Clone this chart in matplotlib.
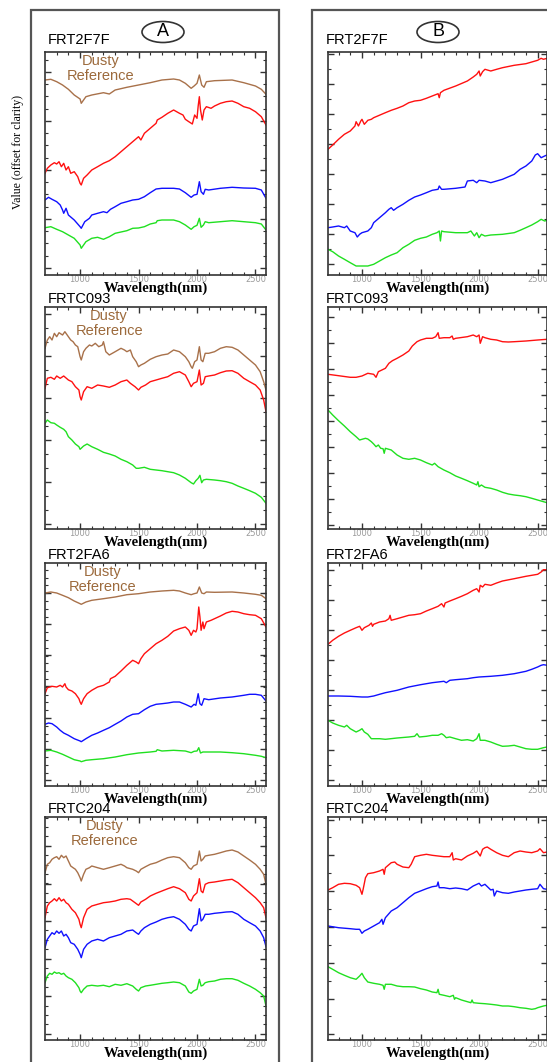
import numpy as np
import matplotlib.pyplot as plt
from matplotlib.patches import Ellipse, Rectangle
from matplotlib.ticker import FixedLocator

# ---- column A, FRT2F7F ----
a1_dusty_wl = [700, 750, 800, 850, 900, 950, 1000, 1010, 1050, 1100, 1200, 1250, 1300, 1400, 1500, 1600, 1700,
               1800, 1850, 1900, 1950, 1975, 2000, 2020, 2040, 2060, 2080, 2150, 2300, 2400, 2500, 2550, 2590]
a1_dusty = [195, 195.7, 193.3, 190, 185.7, 180, 176, 171.7, 178.3, 180, 182.3, 181, 185, 187.7, 190, 192.3, 195,
            196, 195, 191.7, 186.7, 189, 191.7, 200, 190, 187.7, 193.3, 194.3, 195, 192.3, 189, 185.7, 180.7]
a1_red_wl = [700, 720, 750, 780, 800, 820, 840, 860, 880, 900, 920, 950, 980, 1000, 1010, 1030, 1060, 1100, 1150,
             1200, 1250, 1300, 1350, 1400, 1450, 1500, 1520, 1550, 1600, 1650, 1660, 1700, 1750, 1800, 1850, 1880,
             1900, 1930, 1960, 1980, 2000, 2010, 2020, 2030, 2045, 2060, 2080, 2120, 2150, 2200, 2250, 2300, 2350,
             2400, 2450, 2500, 2550, 2590]
a1_red = [101.7, 106.7, 110, 112.3, 111, 113.3, 108.3, 111.7, 105, 108.3, 101.7, 103.3, 98.3, 91.7, 90, 96.7, 100,
          105, 108.3, 111.7, 114.3, 118.3, 123.3, 128.3, 133.3, 138.3, 135, 141.7, 146.7, 151.7, 155, 157.7, 161.7,
          165, 161.7, 160, 155.7, 153.3, 151, 160, 156.7, 169, 178.3, 165, 155, 165, 168.3, 166.7, 169, 171.7, 173.3,
          174, 171.7, 168.3, 166.7, 163.3, 158.3, 150]
a1_blue_wl = [700, 730, 760, 800, 830, 850, 860, 880, 900, 950, 1000, 1010, 1040, 1080, 1100, 1150, 1200, 1230,
              1260, 1300, 1350, 1400, 1450, 1500, 1550, 1600, 1650, 1700, 1800, 1850, 1900, 1950, 1975, 2000, 2020,
              2035, 2055, 2070, 2100, 2200, 2300, 2400, 2500, 2550, 2590]
a1_blue = [75, 77.7, 75.7, 73.3, 70, 65, 61.7, 66.7, 60, 55, 48.3, 46.7, 53.3, 56.7, 60, 61.7, 63.3, 62.3, 65.7,
           68.3, 71.7, 73.3, 75, 75.7, 78.3, 82.3, 86, 86.7, 86.7, 86, 82.3, 77.7, 80, 80.7, 93.3, 83.3, 80.7, 85.7,
           85, 86.7, 87.7, 87, 86.7, 85, 76.7]
a1_green_wl = [700, 750, 800, 850, 900, 950, 1000, 1010, 1050, 1100, 1150, 1200, 1250, 1300, 1400, 1450, 1500,
               1550, 1600, 1650, 1660, 1700, 1800, 1850, 1900, 1950, 1975, 2000, 2020, 2035, 2055, 2070, 2100, 2200,
               2300, 2400, 2500, 2550, 2590]
a1_green = [47.3, 48.3, 45.7, 43.3, 40, 36.7, 30, 26.7, 33.3, 36.7, 37.7, 35.7, 38.3, 41.7, 44.3, 46.7, 47, 48.3,
            51, 52.3, 54.3, 55, 55, 53.3, 50, 45.7, 48.3, 49.7, 56.7, 47.7, 50, 53.3, 52.3, 53.3, 54.3, 53.3, 52.3,
            51, 45]

# ---- column A, FRTC093 ----
a2_dusty_wl = [700, 720, 740, 760, 780, 800, 820, 850, 870, 900, 920, 940, 960, 980, 1000, 1010, 1030, 1050, 1080,
               1100, 1130, 1160, 1190, 1200, 1220, 1250, 1300, 1350, 1380, 1400, 1430, 1450, 1480, 1500, 1520,
               1550, 1600, 1650, 1700, 1750, 1800, 1850, 1900, 1930, 1950, 1960, 1980, 2000, 2020, 2035, 2050,
               2070, 2100, 2150, 2200, 2250, 2300, 2350, 2400, 2450, 2500, 2540, 2570, 2590]
a2_dusty = [180.7, 189, 192.3, 189, 195.7, 192.3, 196.3, 194, 197.3, 192.3, 189, 187.3, 184, 182.3, 172.3, 169,
            177.3, 180.7, 184, 183, 185.7, 182.3, 184, 187.3, 177.3, 174, 177.3, 180.7, 179, 177.3, 179, 172.3,
            167.3, 162.3, 164, 165.7, 169.7, 172.3, 174, 175, 179, 177.3, 172.3, 167.3, 162.3, 160.7, 167.3, 169,
            182.3, 169, 167.3, 175.7, 175.7, 177.3, 180.7, 182.3, 181.7, 179, 174, 169, 164, 157.3, 147.3, 139]
a2_red_wl = [700, 720, 750, 780, 800, 830, 860, 900, 930, 960, 990, 1000, 1010, 1030, 1060, 1100, 1150, 1200, 1250,
             1300, 1350, 1400, 1430, 1470, 1500, 1520, 1560, 1600, 1650, 1700, 1750, 1800, 1850, 1900, 1930, 1950,
             1970, 2000, 2020, 2035, 2055, 2070, 2100, 2150, 2200, 2250, 2300, 2350, 2400, 2450, 2500, 2540, 2570,
             2590]
a2_red = [140.7, 150.7, 151.7, 149.7, 153, 150.7, 153, 149, 147.3, 142.3, 139, 132.3, 129, 137.3, 142.3, 140.7,
          144, 143, 141.7, 144, 147.3, 149, 145.7, 142.3, 139, 141.7, 144, 147.3, 149, 150.7, 152.3, 155.7, 157.3,
          154, 147.3, 142.3, 145.7, 147.3, 159, 144, 145.7, 152.3, 153, 154, 156.3, 158, 158.3, 155.7, 150.7, 147.3,
          144, 139, 129, 117.3]
a2_green_wl = [700, 720, 750, 780, 800, 830, 860, 880, 900, 930, 960, 990, 1000, 1030, 1060, 1100, 1150, 1200,
               1250, 1300, 1350, 1400, 1450, 1480, 1500, 1550, 1600, 1650, 1700, 1750, 1800, 1850, 1900, 1950,
               1970, 1990, 2010, 2025, 2040, 2055, 2080, 2150, 2200, 2250, 2300, 2350, 2400, 2450, 2500, 2550, 2590]
a2_green = [105.7, 109, 106.3, 105.7, 104, 101.7, 99.7, 97.3, 92.3, 89, 85, 82.3, 79.7, 83, 85, 82.3, 79.7, 76.7,
            75, 73, 69.7, 67.3, 64, 60.7, 60.7, 61.7, 59.7, 59, 58.3, 57.3, 56.3, 54, 50.7, 46.3, 45, 48.3, 50.7,
            53.7, 46.3, 49, 49.7, 49, 48.3, 47.3, 45.7, 43, 40.7, 38.3, 35.7, 31.7, 25.7]

# ---- column A, FRT2FA6 ----
a3_dusty_wl = [700, 750, 800, 850, 900, 950, 1000, 1010, 1050, 1100, 1200, 1300, 1400, 1500, 1600, 1700, 1800,
               1850, 1900, 1950, 1975, 2000, 2020, 2040, 2060, 2080, 2150, 2300, 2400, 2500, 2550, 2590]
a3_dusty = [193, 194, 193, 190.7, 188.3, 185, 182.3, 181.7, 184, 185.7, 187.3, 189, 191.3, 192.3, 194, 195, 195.7,
            195, 193, 191.3, 192.3, 193, 199, 193, 192.3, 194, 193.7, 194, 193, 191.7, 190.7, 187.3]
a3_red_wl = [700, 720, 760, 800, 830, 850, 870, 880, 900, 930, 960, 990, 1000, 1010, 1030, 1060, 1100, 1150, 1200,
             1250, 1260, 1300, 1350, 1400, 1450, 1480, 1500, 1520, 1550, 1600, 1650, 1700, 1750, 1800, 1850, 1900,
             1930, 1950, 1970, 1990, 2000, 2015, 2025, 2035, 2050, 2060, 2080, 2120, 2200, 2250, 2300, 2350, 2400,
             2450, 2500, 2550, 2590]
a3_red = [92.3, 98.3, 99.7, 99, 100.7, 99, 102.3, 99, 96.3, 95, 92.3, 87.3, 84, 81.7, 87.3, 92.3, 95.7, 99, 100.7,
          104, 107.3, 109.7, 115, 120.7, 125.7, 124, 122.3, 127.3, 132.3, 137.3, 142.3, 145.7, 149.7, 155, 157.3,
          159, 155.7, 150.7, 155.7, 154, 157.3, 179, 169, 155.7, 164, 157.3, 164, 165.7, 170, 173, 174.7, 174,
          172.3, 171.3, 170.7, 167.3, 159]
a3_blue_wl = [700, 730, 760, 800, 830, 860, 900, 950, 1000, 1010, 1050, 1100, 1150, 1200, 1250, 1300, 1350, 1400,
              1450, 1500, 1550, 1600, 1650, 1700, 1750, 1800, 1850, 1900, 1950, 1975, 1990, 2010, 2025, 2040, 2060,
              2100, 2200, 2300, 2400, 2450, 2500, 2550, 2590]
a3_blue = [61.7, 63, 62.3, 59, 55.7, 53, 50.7, 47.3, 45, 44.3, 47.3, 50.7, 53, 55.7, 58.3, 61.7, 65, 69, 71.7,
           72.3, 76.3, 79.7, 81.7, 82.3, 83, 84, 84, 81.7, 79, 81.7, 80.7, 92.3, 82.3, 80.7, 87.3, 86.3, 88, 89,
           90.7, 91.7, 91.7, 90.7, 85]
a3_green_wl = [700, 750, 800, 850, 900, 950, 1000, 1010, 1050, 1100, 1200, 1300, 1400, 1500, 1600, 1650, 1660,
               1700, 1800, 1900, 1950, 1975, 2000, 2015, 2030, 2050, 2100, 2200, 2300, 2400, 2500, 2550, 2590]
a3_green = [35, 35.7, 34, 31.7, 29, 26.3, 25, 24.3, 25.7, 26.3, 27.3, 29, 31.3, 33, 34, 34.7, 36.3, 35, 35.7, 35,
            33.3, 34.7, 35, 38.3, 33, 34, 34, 34, 33.3, 32.3, 30.7, 29.7, 28.3]

# ---- column A, FRTC204 ----
a4_wl = [700, 720, 740, 760, 780, 800, 820, 840, 860, 880, 900, 920, 940, 960, 980, 1000, 1010, 1030, 1050, 1080,
         1100, 1150, 1200, 1250, 1300, 1350, 1380, 1400, 1450, 1480, 1500, 1520, 1560, 1600, 1650, 1700, 1750,
         1800, 1850, 1900, 1930, 1950, 1970, 2000, 2020, 2035, 2050, 2070, 2100, 2150, 2200, 2250, 2300, 2350,
         2400, 2450, 2500, 2540, 2570, 2590]
a4_dusty = [167.3, 175.7, 177.3, 180.7, 182.3, 183.3, 180.7, 184.7, 182.3, 184, 179, 174, 172.3, 170.7, 167.3,
            162.3, 159, 165.7, 170.7, 172.3, 174, 172.3, 170.7, 172.3, 174, 175.7, 174, 172.3, 170.7, 169, 167.3,
            170.7, 173.3, 175.7, 177.3, 180, 182.3, 183.3, 182.3, 177.3, 172.3, 170.7, 174, 175.7, 189, 179, 180.7,
            184, 184.7, 185.7, 187.3, 189, 190, 188, 184, 180, 175.7, 170.7, 165.7, 155.7]
a4_red_wl = [700, 720, 740, 760, 780, 800, 820, 840, 860, 880, 900, 930, 960, 990, 1000, 1010, 1030, 1060, 1100,
             1150, 1200, 1250, 1300, 1350, 1400, 1430, 1470, 1500, 1520, 1560, 1600, 1650, 1700, 1750, 1800, 1850,
             1900, 1930, 1950, 1970, 2000, 2020, 2035, 2050, 2070, 2100, 2150, 2200, 2250, 2300, 2350, 2400, 2450,
             2500, 2540, 2570, 2590]
a4_red = [122.3, 134, 137.3, 139, 141.3, 139, 142.3, 139, 140.7, 137.3, 135.7, 130.7, 127.3, 120.7, 115.7, 112.3,
          122.3, 130.7, 134, 135.7, 137.3, 138, 139, 140.7, 141.3, 140.7, 137.3, 134.7, 138, 140.7, 144, 146.7, 149,
          151.3, 153.3, 151.3, 147.3, 140.7, 139, 144, 147.3, 161.3, 149, 147.3, 155.7, 157.3, 158, 159, 160, 160.7,
          157.3, 152.3, 147.3, 142.3, 137.3, 132.3, 122.3]
a4_blue_wl = [700, 720, 740, 760, 780, 800, 820, 840, 860, 880, 900, 920, 950, 980, 1000, 1010, 1030, 1060, 1100,
              1150, 1200, 1250, 1300, 1350, 1400, 1450, 1480, 1500, 1520, 1550, 1600, 1650, 1700, 1750, 1800, 1850,
              1900, 1930, 1950, 1970, 2000, 2020, 2035, 2050, 2070, 2100, 2150, 2200, 2250, 2300, 2350, 2400, 2450,
              2500, 2540, 2570, 2590]
a4_blue = [92.3, 100.7, 104, 107.3, 105.7, 109, 106.7, 109, 104, 105.7, 102.3, 97.3, 95.7, 90.7, 85.7, 82.3, 90.7,
           95.7, 99, 100.7, 99, 102.3, 104, 105.7, 109, 110, 107.3, 105.7, 109, 112.3, 115.7, 118, 120.7, 122.3,
           123.3, 120.7, 115.7, 110.7, 109, 114, 115.7, 131.3, 119, 120.7, 125.7, 125.7, 126.7, 127.3, 128, 128.3,
           125.7, 120.7, 117.3, 114, 109, 102.3, 93.3]
a4_green_wl = [700, 720, 740, 760, 780, 800, 820, 840, 860, 880, 900, 930, 960, 990, 1000, 1010, 1030, 1060, 1100,
               1150, 1200, 1250, 1300, 1350, 1400, 1450, 1480, 1500, 1520, 1560, 1600, 1650, 1700, 1750, 1800,
               1850, 1900, 1930, 1950, 1970, 2000, 2020, 2035, 2050, 2070, 2100, 2150, 2200, 2250, 2300, 2350,
               2400, 2450, 2500, 2540, 2570, 2590]
a4_green = [57.3, 64, 66.7, 65.7, 68, 66.7, 67.3, 65.7, 66.7, 64, 62.3, 60.7, 57.3, 52.3, 49, 47.3, 50.7, 54, 54.7,
            54, 54.7, 53.3, 55.7, 54.7, 56.3, 54, 50.7, 49, 52.3, 54, 54.7, 55.7, 56.7, 57.3, 58, 57.3, 54, 48, 46.7,
            49, 50.7, 60.7, 54, 54.7, 57.3, 58.3, 59, 60.7, 61.3, 61.3, 59.7, 56.7, 54, 50.7, 47.3, 44, 34]

# ---- column B, FRT2F7F ----
b1_red_wl = [710, 750, 800, 850, 900, 940, 950, 970, 990, 1000, 1020, 1040, 1050, 1080, 1100, 1200, 1250, 1300,
             1350, 1400, 1450, 1500, 1550, 1600, 1650, 1660, 1670, 1700, 1800, 1900, 1950, 1980, 2000, 2010, 2030,
             2050, 2100, 2150, 2200, 2300, 2400, 2450, 2500, 2530, 2550, 2580]
b1_red = [125.7, 130, 135.7, 140.7, 144, 149, 153.3, 149, 154, 155.7, 150.7, 153.3, 154.7, 155.7, 157.3, 162.3,
          164.7, 166.7, 169, 172.3, 174, 174.7, 176.7, 179, 181.3, 177.3, 182.3, 184.7, 189, 194, 198, 200.7, 204,
          199, 203.3, 205.7, 204, 205.7, 207.3, 209.7, 211.3, 213, 214.7, 216.7, 215.7, 216.7]
b1_blue_wl = [710, 750, 800, 850, 870, 900, 940, 960, 980, 1000, 1050, 1080, 1100, 1150, 1200, 1230, 1250, 1270,
              1300, 1350, 1400, 1450, 1500, 1550, 1600, 1650, 1660, 1680, 1700, 1800, 1880, 1900, 1950, 1980, 2000,
              2050, 2100, 2200, 2300, 2350, 2400, 2450, 2480, 2500, 2530, 2560, 2580]
b1_blue = [47.3, 48, 49, 47.3, 49, 44, 42.3, 38, 40.7, 42.3, 44, 47.3, 52.3, 57.3, 62.3, 65.7, 67.3, 64.7, 67.3,
           70.7, 74.7, 78, 80, 82.3, 84.7, 85.7, 89, 85.7, 85.7, 86.7, 88, 94, 94.7, 92.3, 94.7, 94, 92.3, 95.7,
           100.7, 105.7, 109, 114, 120, 121.3, 117.3, 119, 120]
b1_green_wl = [710, 750, 800, 850, 900, 950, 1000, 1050, 1100, 1150, 1200, 1250, 1300, 1350, 1400, 1450, 1500,
               1550, 1600, 1640, 1660, 1670, 1680, 1700, 1800, 1900, 1930, 1960, 1980, 2000, 2020, 2050, 2100,
               2200, 2300, 2350, 2400, 2450, 2500, 2530, 2560, 2580]
b1_green = [25.7, 23.3, 19, 15.7, 12.3, 9, 9, 9, 10.7, 14, 17.3, 20, 22.3, 27.3, 30.7, 34.7, 36.7, 38, 40.7, 42.3,
            44, 34, 44, 43.3, 42.3, 42.3, 44, 39, 42.3, 37.3, 40.7, 39, 40, 40.7, 42.3, 44.7, 47.3, 50, 53.3, 55.7,
            54, 54.7]

# ---- column B, FRTC093 ----
b2_red_wl = [710, 800, 900, 950, 1000, 1050, 1100, 1120, 1140, 1200, 1230, 1260, 1300, 1350, 1400, 1430, 1470,
             1500, 1550, 1600, 1630, 1650, 1660, 1700, 1750, 1770, 1780, 1800, 1900, 1950, 1980, 2000, 2010, 2030,
             2050, 2100, 2150, 2200, 2250, 2300, 2400, 2500, 2580]
b2_red = [154.7, 153.3, 151.7, 151.7, 153, 155.7, 154.7, 151.7, 157.3, 160.7, 165.7, 168.3, 170.7, 174, 178, 183,
          187.3, 189, 190.7, 190.7, 192.3, 196.3, 190.7, 191.3, 191.3, 193, 189.7, 190.7, 192.3, 194, 192.3, 194,
          185.7, 192.3, 191.3, 189.7, 189, 187.3, 187, 187.3, 188, 189, 189.7]
b2_green_wl = [710, 750, 800, 850, 900, 950, 980, 1000, 1030, 1050, 1080, 1100, 1120, 1140, 1160, 1180, 1190,
               1200, 1250, 1300, 1350, 1400, 1450, 1500, 1550, 1600, 1620, 1650, 1700, 1750, 1800, 1850, 1900,
               1950, 1980, 1990, 2000, 2020, 2050, 2100, 2150, 2200, 2250, 2300, 2350, 2400, 2450, 2500, 2550, 2580]
b2_green = [119, 114, 108.3, 103, 97.3, 92.3, 89, 89.7, 90.7, 90, 87.3, 85, 82.3, 84, 80.7, 80.3, 75.7, 80.7, 79,
            74, 70.7, 69.7, 70.7, 69, 66.3, 64, 65.7, 62.3, 59, 56.3, 53, 50.7, 48.3, 45.7, 44, 47.3, 42.3, 44, 41.7,
            40.7, 39, 36.7, 35, 34, 33.3, 32.3, 30.7, 29, 27.3, 26.3]

# ---- column B, FRT2FA6 ----
b3_red_wl = [710, 750, 800, 850, 900, 950, 980, 1000, 1020, 1060, 1080, 1090, 1100, 1150, 1200, 1230, 1240, 1250,
             1300, 1350, 1400, 1450, 1500, 1550, 1600, 1650, 1680, 1700, 1710, 1750, 1800, 1850, 1900, 1950, 1980,
             2000, 2010, 2030, 2050, 2100, 2150, 2200, 2300, 2400, 2450, 2500, 2530, 2550, 2580]
b3_red = [141.7, 145.7, 149.7, 153, 155.7, 158.3, 159.7, 155.7, 158.3, 160.7, 163, 159.7, 161.7, 164, 165, 167.3,
          170.7, 165.7, 167.3, 169, 170.7, 171.3, 172.3, 175, 177.3, 179.7, 182.3, 179, 183, 185, 187.3, 189.7,
          192.3, 195.7, 197.3, 194, 200.7, 199, 201.7, 200.7, 203, 205, 207.3, 209.7, 210.7, 211.7, 214, 216.3,
          216.3]
b3_blue_wl = [710, 800, 900, 1000, 1050, 1100, 1150, 1200, 1300, 1400, 1500, 1600, 1700, 1720, 1750, 1800, 1900,
              1950, 2000, 2100, 2200, 2300, 2400, 2450, 2500, 2530, 2550, 2580]
b3_blue = [90, 90, 89.7, 89, 89, 90, 91.7, 93.3, 95.7, 99, 101.3, 103.3, 104.7, 103.3, 105.7, 106.3, 107.3, 108.3,
           109, 109.7, 110.7, 112.3, 114.7, 116.7, 119, 120.7, 121.3, 120.7]
b3_green_wl = [710, 750, 800, 850, 870, 900, 950, 980, 1000, 1020, 1050, 1080, 1100, 1150, 1200, 1300, 1400, 1450,
               1470, 1490, 1550, 1600, 1650, 1680, 1700, 1720, 1750, 1800, 1850, 1900, 1950, 1980, 2000, 2010,
               2050, 2100, 2150, 2200, 2250, 2300, 2350, 2400, 2450, 2500, 2550, 2580]
b3_green = [65.7, 63, 60.7, 59, 60.7, 57.3, 54, 55.7, 57.3, 54, 51.7, 47.3, 47.3, 47.3, 46.7, 48, 49, 49.7, 52.3,
            49, 49.7, 50.7, 50.7, 52.3, 50.7, 48.3, 49, 47.3, 45.7, 46.3, 45, 47.3, 52.3, 45.7, 45.7, 44, 41.7, 39.7,
            40, 40.7, 39, 37.3, 36.7, 36.7, 38.3, 39]

# ---- column B, FRTC204 ----
b4_red_wl = [710, 750, 800, 850, 900, 950, 980, 1000, 1010, 1030, 1050, 1100, 1150, 1180, 1190, 1200, 1250, 1280,
             1300, 1350, 1400, 1420, 1450, 1500, 1550, 1600, 1650, 1700, 1750, 1770, 1780, 1800, 1850, 1900, 1950,
             1980, 2000, 2010, 2030, 2050, 2070, 2100, 2150, 2200, 2250, 2300, 2350, 2400, 2450, 2500, 2520, 2550,
             2580]
b4_red = [150, 152.3, 155.7, 156.7, 156.3, 154.7, 152.3, 145.7, 150.7, 162.3, 166.3, 167.3, 169, 170.7, 165.7,
          172.3, 177.3, 178, 175.7, 173, 172.3, 175.7, 183.3, 184.7, 185.7, 184.7, 184, 183.3, 183.3, 187.3, 180,
          181.3, 180, 184, 186.7, 189, 185.7, 184, 190.7, 192.3, 193, 190.7, 187.3, 184.7, 183.3, 187.3, 189, 188,
          187.3, 189, 191.3, 187.3, 188]
b4_blue_wl = [710, 800, 900, 950, 980, 1000, 1020, 1050, 1100, 1150, 1170, 1180, 1200, 1250, 1300, 1350, 1400,
              1450, 1500, 1550, 1600, 1640, 1650, 1660, 1700, 1750, 1800, 1850, 1900, 1950, 2000, 2020, 2050, 2080,
              2100, 2120, 2130, 2150, 2200, 2250, 2300, 2350, 2400, 2450, 2500, 2520, 2550, 2580]
b4_blue = [114, 112.3, 111.3, 110.7, 110.7, 106.7, 109, 110.7, 114, 117.3, 120.7, 115.7, 122.3, 129, 132.3, 137.3,
           142.3, 146.7, 149, 151.3, 153.3, 154, 158, 152.3, 152.3, 151.3, 152, 151.3, 150, 154, 156.7, 154, 155.7,
           152.3, 150, 150.7, 144, 149, 147.3, 146.7, 148, 149, 150, 150.7, 151.3, 155.7, 151.3, 150.7]
b4_green_wl = [710, 750, 800, 850, 900, 950, 980, 1000, 1020, 1050, 1100, 1150, 1180, 1190, 1200, 1250, 1300,
               1350, 1400, 1450, 1500, 1550, 1600, 1640, 1650, 1660, 1700, 1750, 1780, 1790, 1800, 1850, 1900,
               1930, 1940, 1950, 2000, 2050, 2100, 2150, 2200, 2250, 2300, 2350, 2400, 2450, 2480, 2500, 2550, 2580]
b4_green = [73.3, 70.7, 67.3, 64.7, 62.3, 60.7, 64, 66.7, 62.3, 58, 56.7, 55.7, 54.7, 50.7, 55.7, 55.7, 54, 53.3,
            53.3, 53, 51.3, 50, 48, 47.3, 50.7, 45.7, 44.7, 43.3, 44.7, 40.7, 42.3, 40, 38.3, 37.3, 40, 37.3, 36.7,
            36.3, 35.7, 35, 34, 34, 33.3, 32.3, 31.7, 30.7, 31.3, 32.3, 34, 34.7]

scene_names = ["FRT2F7F", "FRTC093", "FRT2FA6", "FRTC204"]

C_DUSTY = "#a8714a"
C_RED = "#ff1010"
C_BLUE = "#1010ff"
C_GREEN = "#20e020"

col_a = [
    [(a1_dusty_wl, a1_dusty, C_DUSTY), (a1_red_wl, a1_red, C_RED), (a1_blue_wl, a1_blue, C_BLUE),
     (a1_green_wl, a1_green, C_GREEN)],
    [(a2_dusty_wl, a2_dusty, C_DUSTY), (a2_red_wl, a2_red, C_RED), (a2_green_wl, a2_green, C_GREEN)],
    [(a3_dusty_wl, a3_dusty, C_DUSTY), (a3_red_wl, a3_red, C_RED), (a3_blue_wl, a3_blue, C_BLUE),
     (a3_green_wl, a3_green, C_GREEN)],
    [(a4_wl, a4_dusty, C_DUSTY), (a4_red_wl, a4_red, C_RED), (a4_blue_wl, a4_blue, C_BLUE),
     (a4_green_wl, a4_green, C_GREEN)],
]
col_b = [
    [(b1_red_wl, b1_red, C_RED), (b1_blue_wl, b1_blue, C_BLUE), (b1_green_wl, b1_green, C_GREEN)],
    [(b2_red_wl, b2_red, C_RED), (b2_green_wl, b2_green, C_GREEN)],
    [(b3_red_wl, b3_red, C_RED), (b3_blue_wl, b3_blue, C_BLUE), (b3_green_wl, b3_green, C_GREEN)],
    [(b4_red_wl, b4_red, C_RED), (b4_blue_wl, b4_blue, C_BLUE), (b4_green_wl, b4_green, C_GREEN)],
]

# layout in pixels (figure is 547 x 1062)
W, H = 547, 1062
tops = [52, 307, 563, 817]
heights = [223, 222, 223, 223]
# y tick layout per panel: first major, major step, minor step
yt_a = [(7, 49, 12.25), (4.7, 42, 14), (5.7, 31.3, 7.8), (6.3, 37.5, 9.4)]
yt_b = [(10.7, 30, 15), (4, 26, 13), (5.7, 30, 15), (5.7, 35.8, 17.9)]
title_gap = [12, 8, 8, 8]
dusty_x = [0.25, 0.29, 0.26, 0.27]

fig = plt.figure(figsize=(W / 100, H / 100), dpi=100)

# column frames
for x0, x1 in [(31, 279), (312, 700)]:
    fig.patches.append(Rectangle((x0 / W, -0.05), (x1 - x0) / W, 1.05 - 10 / H, transform=fig.transFigure,
                                 fill=False, edgecolor="#555555", linewidth=1.6, clip_on=False))


def style_axes(ax, xlim, ytk, top_h):
    ax.set_xlim(*xlim)
    ax.set_ylim(0, top_h)
    ax.xaxis.set_major_locator(FixedLocator([1000, 1500, 2000, 2500]))
    ax.xaxis.set_minor_locator(FixedLocator(np.arange(800, 2600, 100)))
    first, step, mstep = ytk
    ax.yaxis.set_major_locator(FixedLocator(np.arange(first, top_h, step)))
    ax.yaxis.set_minor_locator(FixedLocator(np.arange(first, top_h, mstep)))
    ax.tick_params(which="both", direction="in", top=True, right=True, colors="#333333",
                   labelcolor="#9a9a9a", labelsize=6, pad=0)
    ax.tick_params(which="major", length=4.5, width=1)
    ax.tick_params(which="minor", length=2.5, width=0.8)
    ax.set_yticklabels([])
    for s in ax.spines.values():
        s.set_color("#333333")
        s.set_linewidth(1.2)
    ax.set_xlabel("Wavelength(nm)", family="Liberation Serif", fontweight="bold", fontsize=10.5, labelpad=-1.5)


for i in range(4):
    bottom = 1 - (tops[i] + heights[i]) / H
    h = heights[i] / H
    # column A
    ax = fig.add_axes([45 / W, bottom, 221 / W, h])
    for wl, val, c in col_a[i]:
        ax.plot(wl, val, color=c, lw=1.0)
    style_axes(ax, (700, 2590), yt_a[i], heights[i])
    ax.text(0.012, 1 + title_gap[i] / heights[i], scene_names[i], transform=ax.transAxes, ha="left",
            va="center", fontsize=10.5, family="Liberation Sans")
    ax.text(dusty_x[i], 0.925, "Dusty\nReference", transform=ax.transAxes, ha="center", va="center",
            fontsize=10.5, color="#9c6a3c", family="Liberation Sans", linespacing=1.1)
    # column B
    bx = fig.add_axes([328 / W, bottom, 219 / W, h])
    for wl, val, c in col_b[i]:
        bx.plot(wl, val, color=c, lw=1.0)
    style_axes(bx, (710, 2580), yt_b[i], heights[i])
    bx.text(-0.01, 1 + title_gap[i] / heights[i], scene_names[i], transform=bx.transAxes, ha="left",
            va="center", fontsize=10.5, family="Liberation Sans")

# circled panel letters
for cx, letter in [(163, "A"), (438, "B")]:
    fig.patches.append(Ellipse((cx / W, 1 - 32 / H), 42 / W, 21 / H, transform=fig.transFigure,
                               fill=False, edgecolor="#333333", linewidth=1.2))
    fig.text(cx / W, 1 - 32 / H, letter, ha="center", va="center", fontsize=13, family="Liberation Sans")

fig.text(18 / W, 1 - 152 / H, "Value (offset for clarity)", rotation=90, ha="center", va="center",
         family="Liberation Serif", fontsize=8.5)

fig.savefig("out.png", dpi=100)
